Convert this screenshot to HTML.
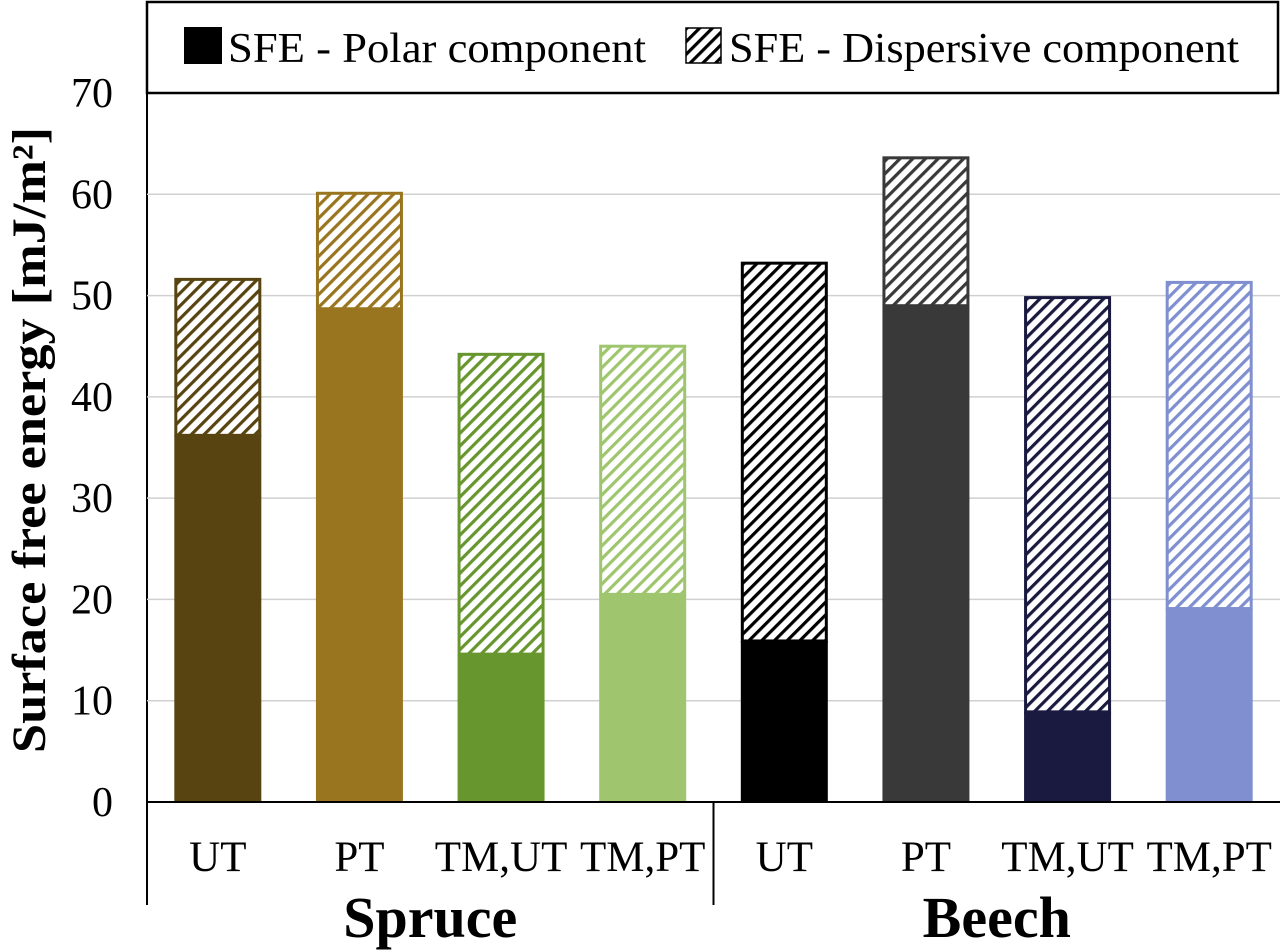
<!DOCTYPE html>
<html><head><meta charset="utf-8"><style>
body{margin:0;background:#fff;}
svg{display:block;font-family:"Liberation Serif",serif;}
</style></head><body>
<svg id="chart" width="1280" height="950">
<defs></defs>
<rect x="147" y="2" width="1131" height="91" fill="#fff" stroke="#000" stroke-width="2.5"/>
<g>
<rect x="184" y="27" width="38" height="37" fill="#000"/>
<text x="228" y="62" font-size="42" textLength="418" lengthAdjust="spacingAndGlyphs">SFE - Polar component</text>
</g>
<g>
<rect x="686" y="28" width="35" height="35" fill="url(#h-legend)" stroke="#000" stroke-width="1.5"/>
<text x="729" y="62" font-size="42" textLength="510" lengthAdjust="spacingAndGlyphs">SFE - Dispersive component</text>
</g>
<line x1="147" y1="93" x2="147" y2="905" stroke="#000" stroke-width="2"/>
<text transform="translate(45,440) rotate(-90)" text-anchor="middle" font-size="48" font-weight="bold" textLength="626" lengthAdjust="spacingAndGlyphs">Surface free energy [mJ/m²]</text>
<g id="grid"></g><g id="bars"></g><g id="xaxis"></g>
</svg>
<script>
const categories=["UT","PT","TM,UT","TM,PT","UT","PT","TM,UT","TM,PT"];
const groups=["Spruce","Beech"];
const polar=[36.2,48.7,14.6,20.5,15.9,49.0,8.9,19.1];
const total=[51.6,60.1,44.2,45.0,53.2,63.6,49.8,51.3];
const yTicks=[0,10,20,30,40,50,60,70];
const colors=["#574410","#9a7520","#67962f","#9fc66f","#000000","#393939","#1a1a40","#7f8fcf"];
const NS="http://www.w3.org/2000/svg";
const svg=document.getElementById('chart');
const y0=802,y70=93,xL=147,xR=1280;
const y=v=>y0-(v/70)*(y0-y70);
const step=(xR-xL)/8;
const xc=i=>xL+step*(i+0.5);
function mk(t,a,p){const e=document.createElementNS(NS,t);for(const k in a)e.setAttribute(k,a[k]);(p||svg).appendChild(e);return e;}
const defs=svg.querySelector('defs');
function hatch(id,c){const p=mk('pattern',{id:id,width:9,height:9,patternUnits:'userSpaceOnUse',patternTransform:'rotate(45)'},defs);
mk('rect',{width:9,height:9,fill:'#fff'},p);mk('rect',{x:0,y:0,width:3.2,height:9,fill:c},p);}
hatch('h-legend','#000');
colors.forEach((c,i)=>hatch('h'+i,c));
const grid=document.getElementById('grid');
yTicks.forEach(t=>{
 if(t>0&&t<70){const g=mk('line',{x1:xL,x2:xR,y1:y(t),y2:y(t),stroke:'#d0d0d0','stroke-width':1.5},grid);
 
 }
 const l=mk('text',{x:113,y:y(t)+14,'text-anchor':'end','font-size':42},grid);l.textContent=t;
 
 
});
const bars=document.getElementById('bars');
const bw=84;
categories.forEach((c,i)=>{
 const x=xc(i)-bw/2;
 const d=mk('rect',{x:x,y:y(total[i]),width:bw,height:y(polar[i])-y(total[i]),fill:'url(#h'+i+')',stroke:colors[i],'stroke-width':3},bars);
 
 
 const p=mk('rect',{x:x-1.5,y:y(polar[i]),width:bw+3,height:y0-y(polar[i]),fill:colors[i]},bars);
 
 
 const t=mk('text',{x:xc(i),y:871,'text-anchor':'middle','font-size':43},bars);t.textContent=c;
 
 
});
const xa=document.getElementById('xaxis');
const ax=mk('line',{x1:xL,x2:xR,y1:y0,y2:y0,stroke:'#000','stroke-width':2},xa);


[xL,(xL+xR)/2].forEach(xx=>{const l=mk('line',{x1:xx,x2:xx,y1:y0,y2:905,stroke:'#000','stroke-width':2},xa);
 
 });
groups.forEach((g,i)=>{const t=mk('text',{x:xL+(xR-xL)/4*(2*i+1),y:937,'text-anchor':'middle','font-size':58,'font-weight':'bold'},xa);t.textContent=g;
 
 });
</script>
</body></html>
